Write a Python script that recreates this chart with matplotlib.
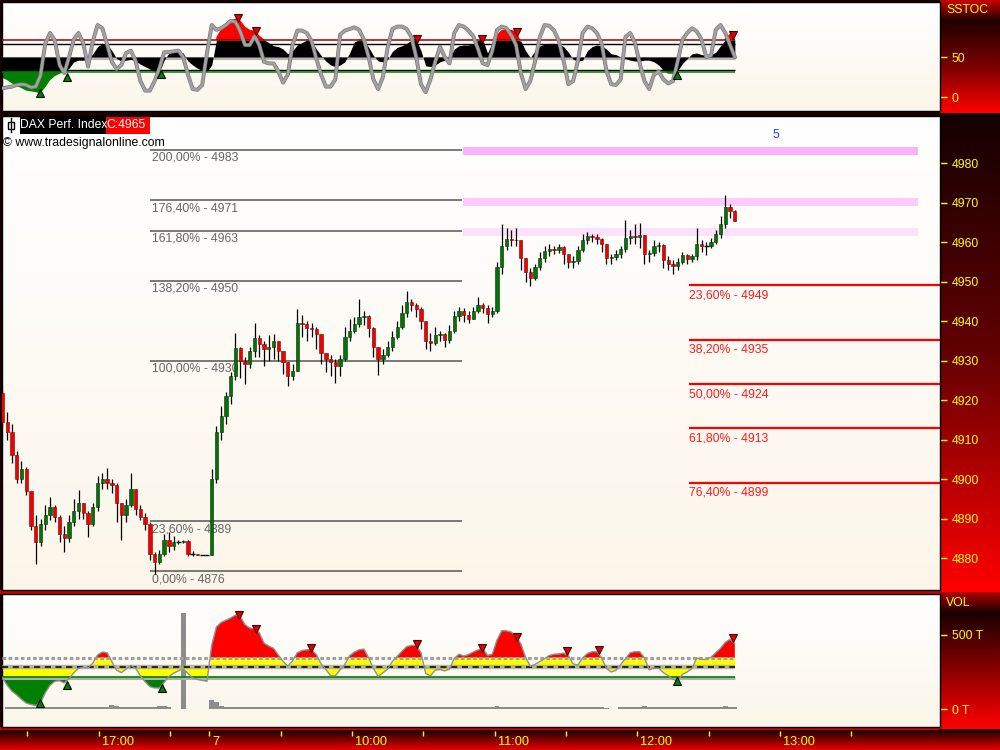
import numpy as np
import matplotlib
matplotlib.use('Agg')
import matplotlib.pyplot as plt
import matplotlib.patheffects as pe
from matplotlib.colors import LinearSegmentedColormap
from matplotlib.patches import Rectangle

plt.rcParams['font.family'] = ['Liberation Sans', 'DejaVu Sans']
plt.rcParams['font.size'] = 8.8

# minutes on the chart axis, 0 = 09:00 on the 7th (previous session on the left)
bar_t = np.arange(-87, 222, 2)

first_open = 4921.7
close = [4914.5, 4912, 4906, 4900, 4902.5, 4897, 4888, 4884, 4888.5, 4891,
         4893, 4890.5, 4886, 4885, 4889, 4892, 4894, 4891.5, 4888.5, 4893,
         4899, 4900, 4899, 4898.5, 4894, 4890.8, 4893.5, 4897.5, 4892.5, 4890.5,
         4888.5, 4881, 4879, 4881, 4884.5, 4883, 4884, 4884, 4884.2, 4881,
         4881, 4880.8, 4880.8, 4880.8, 4900, 4912, 4916, 4921, 4926,
         4933.2, 4930, 4929, 4932.4, 4935.8, 4934.1, 4932.8, 4933.5, 4934.9, 4932.4,
         4929.5, 4926, 4927.3, 4939.5, 4939.2, 4938.3, 4938, 4936.6, 4932, 4930.5,
         4929.5, 4928.6, 4930.5, 4936, 4937.5, 4939.2, 4941, 4941.3, 4938.3, 4933.5,
         4930.5, 4931.5, 4933.5, 4936, 4938.5, 4942, 4944.7, 4944, 4943, 4940,
         4935, 4934.5, 4936.5, 4936.6, 4935.3, 4937.5, 4941.3, 4942.6, 4941.5, 4940.4,
         4942.6, 4944, 4943.4, 4941.7, 4942.5, 4953.6, 4959, 4960.8, 4960.5, 4960.6,
         4956, 4952.5, 4951, 4953.6, 4956, 4957.8, 4958.3, 4958, 4958.7, 4957,
         4954.9, 4955.3, 4958, 4960.5, 4961.5, 4961.2, 4960.8, 4959.5, 4956, 4956.3,
         4957, 4958.3, 4961, 4961.5, 4961.2, 4961.7, 4957, 4957.3, 4959, 4959.2,
         4955.5, 4954.4, 4954, 4955, 4956.6, 4955.8, 4956.5, 4959.5, 4959, 4959,
         4960, 4962, 4964.5, 4968.9, 4967.8, 4965.2]
high = [4922.5, 4917, 4914, 4907, 4904.5, 4903, 4897, 4891, 4890, 4893.5,
        4895.5, 4893.5, 4891, 4888, 4891, 4895, 4897.2, 4894, 4892, 4894,
        4900.8, 4901.5, 4902.7, 4900, 4899, 4894, 4895, 4901.5, 4897.5, 4893.5,
        4891.5, 4889, 4881.5, 4882, 4886, 4886.5, 4885.5, 4884.5, 4884.5, 4884.5,
        4881.7, 4880.8, 4880.8, 4880.8, 4902.5, 4913.5, 4918.5, 4922, 4927,
        4937, 4933.5, 4931, 4933.5, 4939.5, 4936.5, 4935, 4936.5, 4936.7, 4935,
        4932.5, 4929.5, 4929, 4943, 4941.5, 4940, 4939.5, 4938.5, 4936, 4932,
        4931.5, 4930.5, 4931.5, 4938.5, 4940.5, 4941, 4945.5, 4942.5, 4941.5, 4938.5,
        4933.5, 4933, 4935, 4937.5, 4940, 4944, 4947.7, 4945.5, 4944.5, 4943.5,
        4940, 4937, 4938.5, 4937.5, 4937, 4939, 4942.6, 4943.5, 4943.3, 4942.6,
        4943.5, 4946, 4944.5, 4944, 4943.5, 4955, 4964.6, 4963.5, 4963, 4963.5,
        4960.5, 4956, 4953.5, 4954.5, 4957.5, 4959, 4959.5, 4959, 4959.5, 4959,
        4957, 4956.5, 4959, 4962, 4962.5, 4962, 4962, 4961, 4959.5, 4957,
        4958, 4959, 4965.5, 4963, 4964.5, 4964.8, 4961, 4958, 4960.5, 4960,
        4959.5, 4956.5, 4955.5, 4956, 4957.5, 4957, 4957, 4963.5, 4960.5, 4960,
        4961, 4963, 4966.5, 4971.8, 4969.5, 4968]
low = [4913, 4910, 4904, 4899, 4899, 4896, 4887, 4878.6, 4883, 4887,
       4889.5, 4889, 4884, 4881.5, 4884, 4888, 4890, 4890, 4885.4, 4888,
       4892, 4897.5, 4897.5, 4896.5, 4889, 4884.5, 4889, 4893, 4891, 4889.5,
       4887, 4879.5, 4876, 4878.5, 4880.5, 4881.5, 4882, 4883.5, 4883.8, 4880.5,
       4880.6, 4880.8, 4880.8, 4880.8, 4880.8, 4899, 4910, 4914, 4919,
       4925, 4925.5, 4924, 4928, 4931, 4931, 4928.5, 4930, 4930.5, 4930,
       4926.5, 4923.5, 4925, 4929, 4936, 4935, 4936, 4933, 4929, 4927,
       4926, 4924.3, 4926, 4930, 4935, 4937, 4938.5, 4939, 4936, 4931,
       4926.4, 4929, 4931, 4932.5, 4935.5, 4938, 4941, 4942.5, 4941, 4938,
       4933, 4932.5, 4934, 4935, 4933.5, 4934.5, 4937, 4940, 4939.8, 4939.5,
       4940.5, 4942, 4942, 4939.5, 4941, 4942, 4952, 4958, 4959, 4959,
       4953, 4950, 4948.8, 4950.5, 4953, 4955, 4956.5, 4957, 4957.2, 4954.5,
       4953.5, 4953.5, 4954.5, 4957.5, 4959.5, 4960, 4959.5, 4957.5, 4954.5, 4954.5,
       4955.5, 4956, 4957.5, 4959.5, 4959.5, 4958.5, 4954.5, 4955, 4956.5, 4957.5,
       4953.5, 4953, 4952, 4953, 4954.5, 4954.5, 4955, 4955.5, 4957.5, 4956.6,
       4958.5, 4959.5, 4961, 4963.5, 4966, 4965.3]

# SSTOC indicator (fast line and smoothed line)
sstoc_fast = [11, 12, 13, 15, 16, 15, 12, 13, 27, 67,
              80, 71, 40, 30, 50, 72, 80, 67, 38, 70,
              90, 86, 66, 44, 35, 40, 55, 58, 45, 20,
              8, 8, 20, 36, 56, 56, 57, 58, 50, 28,
              10, 9, 15, 55, 90, 84, 86, 90, 95, 94,
              82, 65, 65, 76, 65, 44, 42, 42, 32, 18,
              28, 65, 83, 83, 80, 70, 48, 28, 13, 13,
              22, 78, 83, 85,
              87, 84, 72, 50, 22, 10, 25, 62, 85, 88,
              88, 85, 75, 50, 16, 6, 22, 44, 63, 50,
              42, 80, 90, 88, 83, 76, 60, 42, 40, 58,
              84, 88, 86, 77, 65, 30, 10, 20, 45, 75,
              90, 89, 83, 70, 45, 16, 20, 45, 80, 88,
              86, 80, 67, 33, 16, 15, 22, 75, 80, 68,
              42, 20, 10, 28, 32, 22, 17, 20, 45, 72,
              80, 86, 82, 72, 50, 52, 84, 90, 80, 65, 50]
sstoc_slow = [24, 21, 17, 14, 11, 8, 7, 6, 5, 12,
              21, 26, 29, 31, 36, 44, 46, 46, 47, 54,
              63, 67, 66, 58, 48, 45, 46, 47, 45, 41,
              38, 35, 32, 30, 46, 55, 58, 57, 55, 45,
              40, 36, 33, 32, 40, 75, 85, 92, 96, 98,
              96, 88, 84, 83, 77, 72, 68, 64, 63, 60,
              54, 58, 65, 68, 72, 70, 60, 52, 45, 40,
              38, 40, 44, 55,
              69, 72, 72, 62, 52, 45, 44, 47, 57, 62,
              64, 67, 71, 73, 58, 39, 38, 40, 44, 46,
              48, 60, 64, 65, 65, 67, 71, 72, 55, 68,
              78, 84, 85, 84, 82, 70, 58, 49, 58, 64,
              66, 67, 67, 66, 63, 56, 47, 45, 46, 58,
              63, 65, 64, 60, 54, 53, 50, 48, 46, 45,
              45, 46, 46, 44, 40, 33, 29, 29, 33, 42,
              48, 54, 55, 53, 52, 53, 56, 64, 74, 79, 75]
sstoc_dn_t = [12.1, 19.6, 87.3, 114.7, 129.4, 220.2]
sstoc_dn_v = [98.5, 82.5, 72.5, 72.5, 81.5, 77.5]
sstoc_up_t = [-71.2, -59.8, -20.3, 196.6]
sstoc_up_v = [5, 25, 28.5, 27.5]

# VOL panel: smoothed volume and raw volume (thousands)
vol_osc = [210, 160, 120, 95, 65, 40, 30, 24, 40, 110,
           160, 187, 191, 176, 205, 245, 275, 282, 278, 310,
           365, 385, 380, 320, 262, 246, 270, 295, 275, 225,
           185, 151, 142, 142, 180, 220, 242, 258, 272, 240,
           210, 199, 193, 188, 430, 555, 585, 600, 615, 635,
           625, 570, 547, 540, 515, 445, 425, 410, 365, 322,
           290, 325, 380, 395, 400, 400, 368, 305, 268, 225,
           225, 265, 300, 360,
           384, 400, 405, 345, 275, 220, 245, 270, 322, 355,
           390, 421, 430, 430, 380, 240, 225, 263, 267, 258,
           270, 342, 370, 358, 368, 385, 399, 410, 362, 370,
           466, 529, 528, 520, 492, 440, 350, 288, 302, 320,
           340, 362, 370, 372, 378, 360, 305, 297, 345, 375,
           387, 387, 345, 275, 250, 262, 300, 340, 380, 387,
           387, 345, 265, 275, 275, 245, 225, 200, 191, 235,
           250, 275, 345, 335, 335, 350, 380, 410, 450, 472, 440]
vol = [0, 12, 12, 12, 12, 12, 12, 12, 12, 12,
       12, 12, 12, 12, 12, 12, 12, 12, 12, 12,
       12, 12, 12, 25, 20, 12, 12, 12, 12, 12,
       12, 12, 12, 20, 18, 12, 0, 0, 650, 0,
       0, 0, 0, 0, 60, 45, 22, 12, 12, 12,
       12, 12, 12, 12, 12, 12, 12, 12, 12, 12,
       12, 12, 12, 12, 12, 12, 12, 12, 12, 12,
       12, 12, 12, 12,
       12, 12, 12, 12, 12, 12, 12, 12, 12, 12,
       12, 12, 12, 12, 12, 12, 12, 12, 12, 12,
       12, 12, 12, 12, 12, 12, 12, 12, 12, 12,
       18, 12, 12, 12, 12, 12, 12, 12, 12, 12,
       12, 12, 12, 12, 12, 12, 12, 12, 12, 12,
       12, 12, 12, 8, 0, 0, 12, 12, 12, 12,
       12, 18, 12, 12, 12, 12, 12, 12, 12, 12,
       12, 12, 12, 12, 12, 12, 12, 12, 18, 12, 12]
vol_dn_t = [12.6, 19.6, 42.8, 87.3, 114.8, 129.3, 150.3, 163.9, 220.1]
vol_dn_v = [635, 539, 410, 437, 410, 489, 392, 399, 478]
vol_up_t = [-71.2, -60, -20, 196.8]
vol_up_v = [39, 162, 140, 191]

# fibonacci drawings
fib_levels = [4983.3, 4970.6, 4962.8, 4950.2, 4930.0, 4889.3, 4876.7]
fib_labels = ['200,00% - 4983', '176,40% - 4971', '161,80% - 4963', '138,20% - 4950',
              '100,00% - 4930', '23,60% - 4889', '0,00% - 4876']
ret_levels = [4949.1, 4935.2, 4924.0, 4912.9, 4899.1]
ret_labels = ['23,60% - 4949', '38,20% - 4935', '50,00% - 4924', '61,80% - 4913',
              '76,40% - 4899']
band_levels = [4983.0, 4970.1, 4962.5]
band_colors = ['#fab3fa', '#fccbfc', '#fde0fa']

tick_t = [-76.5, -46.5, -16.5, 0, 30, 60, 90, 120, 150, 180, 210, 240, 270]
tick_lab = ['', '17:00', '', '7', '', '10:00', '', '11:00', '', '12:00', '', '13:00', '']

W, H = 1000, 750
XLIM = (-87.2, 307.3)
YEL = '#ffff00'

fig = plt.figure(figsize=(10, 7.5), dpi=100, facecolor='#1a0000')

# background strips (pixel coords)
bg = fig.add_axes([0, 0, 1, 1], zorder=-5)
bg.set_xlim(0, W)
bg.set_ylim(H, 0)
bg.axis('off')
grad = np.linspace(0, 1, 200).reshape(-1, 1)


def vgrad(x0, x1, y0, y1, colors):
    cm = LinearSegmentedColormap.from_list('g', colors)
    bg.imshow(grad, cmap=cm, extent=[x0, x1, y1, y0], aspect='auto', interpolation='bilinear')


vgrad(940, 1000, 0, 19, ['#c80000', '#300000'])
vgrad(940, 1000, 19, 113, ['#1e0000', '#7a0000', '#ff0000'])
vgrad(940, 1000, 113, 592, ['#140000', '#620000', '#ff0000'])
vgrad(940, 1000, 592, 612, ['#b00000', '#200000'])
vgrad(940, 1000, 612, 729, ['#1a0000', '#8a0000', '#ff0000'])
vgrad(0, 1000, 729, 750, ['#100000', '#e80000'])
bg.add_patch(Rectangle((0, 590), 940, 4, facecolor='#cc0000', lw=0))
bg.add_patch(Rectangle((0, 727), 940, 3, facecolor='#cc0000', lw=0))
bg.set_xlim(0, W)
bg.set_ylim(H, 0)

panel_cm = LinearSegmentedColormap.from_list('p', ['#ffffff', '#fcf6ea'])


def add_panel(y0, y1):
    ax = fig.add_axes([2 / W, 1 - y1 / H, 938 / W, (y1 - y0) / H])
    ax.imshow(grad, cmap=panel_cm, extent=[0, 1, 0, 1], transform=ax.transAxes,
              aspect='auto', zorder=0)
    for s in ax.spines.values():
        s.set_color('black')
        s.set_linewidth(1)
    ax.yaxis.tick_right()
    ax.tick_params(axis='y', colors=YEL, length=5, width=1, pad=3.5, labelsize=8.8)
    ax.tick_params(axis='x', bottom=False, labelbottom=False)
    return ax


ax_top = add_panel(2, 111)
ax = add_panel(116, 590)
ax_vol = add_panel(594, 727)

t0, t1 = bar_t[0], bar_t[-1]

# ---- SSTOC panel
sf = np.array(sstoc_fast, dtype=float)
ss = np.array(sstoc_slow, dtype=float)
ax_top.hlines(48.7, t0, t1, color='#b4b4b4', lw=2.2, zorder=1)
ax_top.fill_between(bar_t, 50, np.clip(ss, 31.25, 71.25), color='black', lw=0, zorder=2)
ax_top.fill_between(bar_t, 71.25, ss, where=ss > 71.25, interpolate=True,
                    color='#ff0000', lw=0, zorder=2)
ax_top.fill_between(bar_t, 31.25, ss, where=ss < 31.25, interpolate=True,
                    color='#008000', lw=0, zorder=2)
ax_top.hlines(71.25, t0, t1, color='#a00000', lw=1.1, zorder=3)
ax_top.hlines(66.25, t0, t1, color='black', lw=1, zorder=3)
ax_top.hlines(33.75, t0, t1, color='black', lw=1, zorder=3)
ax_top.hlines(31.25, t0, t1, color='#008000', lw=1.1, zorder=3)
ax_top.plot(bar_t, sf, color='#a2a2a2', lw=1.8, zorder=4,
            path_effects=[pe.Stroke(linewidth=2.8, foreground='#767676'), pe.Normal()])
ax_top.plot(sstoc_dn_t, sstoc_dn_v, 'v', color='#e00000', mec='#400000', ms=6, mew=0.8, zorder=5)
ax_top.plot(sstoc_up_t, sstoc_up_v, '^', color='#008000', mec='black', ms=6, mew=0.8, zorder=5)
ax_top.set_yticks([0, 50])
ax_top.set_xlim(*XLIM)
ax_top.set_ylim(-17.5, 118.75)

# ---- price panel
for lev, col in zip(band_levels, band_colors):
    ax.fill_between([106.7, 298.0], lev - 1.0, lev + 1.0, color=col, lw=0, zorder=1)

ax.hlines(fib_levels, -24.9, 106.3, color='#555555', lw=1.1, zorder=1)
for lev, lab in zip(fib_levels, fib_labels):
    ax.annotate(lab, xy=(-24.9, lev), xytext=(2, -2), textcoords='offset pixels',
                ha='left', va='top', color='#666666', zorder=1)

ax.hlines(ret_levels, 201.7, XLIM[1], color='#ff0000', lw=1.6, zorder=1)
for lev, lab in zip(ret_levels, ret_labels):
    ax.annotate(lab, xy=(201.7, lev), xytext=(0, -4), textcoords='offset pixels',
                ha='left', va='top', color='#ff1a1a', zorder=1)

ax.text(238.3, 4987.2, '5', color='#1a3cff', ha='center', va='center')

o = np.array([first_open] + close[:-1])
c = np.array(close)
h = np.maximum(np.array(high), np.maximum(o, c))
l = np.minimum(np.array(low), np.minimum(o, c))
up = c > o
dn = c < o
flat = c == o
ax.vlines(bar_t, l, h, color='black', lw=0.9, zorder=3)
ax.bar(bar_t[up], (c - o)[up], bottom=o[up], width=1.4, color='#087008',
       edgecolor='#003300', lw=0.4, zorder=4)
ax.bar(bar_t[dn], (o - c)[dn], bottom=c[dn], width=1.4, color='#f00000',
       edgecolor='#7a0000', lw=0.4, zorder=4)
ax.hlines(c[flat], bar_t[flat] - 1, bar_t[flat] + 1, color='black', lw=1, zorder=4)

ax.set_yticks(np.arange(4880, 4990, 10))
ax.set_xlim(*XLIM)
ax.set_ylim(4871.9, 4991.9)

# ---- VOL panel
vo = np.array(vol_osc, dtype=float)
ax_vol.bar(bar_t, vol, width=2.0, color='#8c8c8c', lw=0, zorder=1)
ax_vol.fill_between(bar_t, 347, vo, where=vo > 347, interpolate=True,
                    color='#ff0000', lw=0, zorder=2)
ax_vol.fill_between(bar_t, 285, np.clip(vo, 218, 347), color='#ffff00', lw=0, zorder=2)
ax_vol.fill_between(bar_t, 218, vo, where=vo < 218, interpolate=True,
                    color='#008000', lw=0, zorder=2)
ax_vol.hlines(347, t0, t1, color='#a0a0a0', lw=2.2, linestyles=(0, (1.2, 0.8)), zorder=3)
ax_vol.hlines(284, t0, t1, color='#9a9a9a', lw=3.2, alpha=0.7, zorder=3)
ax_vol.hlines(285, t0, t1, color='black', lw=1.1, linestyles=(0, (4, 3)), zorder=3)
ax_vol.hlines(207, t0, t1, color='#b0b0b0', lw=2.2, zorder=3)
ax_vol.hlines(218, t0, t1, color='#008000', lw=1.2, zorder=3)
ax_vol.plot(bar_t, vo, color='#909090', lw=1, zorder=4)
ax_vol.plot(vol_dn_t, vol_dn_v, 'v', color='#e00000', mec='#400000', ms=6, mew=0.8, zorder=5)
ax_vol.plot(vol_up_t, vol_up_v, '^', color='#008000', mec='black', ms=6, mew=0.8, zorder=5)
ax_vol.set_yticks([0, 500])
ax_vol.set_yticklabels(['0 T', '500 T'])
ax_vol.set_xlim(*XLIM)
ax_vol.set_ylim(-121.6, 777)

# ---- time axis
ax_t = fig.add_axes([2 / W, 0, 938 / W, 20 / H])
ax_t.axis('off')
ax_t.set_xlim(*XLIM)
ax_t.set_ylim(0, 1)
ax_t.vlines(tick_t, 0.72, 0.93, color=YEL, lw=1)
for tt, lab in zip(tick_t, tick_lab):
    if lab:
        ax_t.annotate(lab, xy=(tt, 0.38), xytext=(3, 0), textcoords='offset pixels',
                      ha='left', va='center', color=YEL, fontsize=9.2)

# ---- overlay texts (pixel coords)
ov = fig.add_axes([0, 0, 1, 1], zorder=10)
ov.set_xlim(0, W)
ov.set_ylim(H, 0)
ov.axis('off')
ov.add_patch(Rectangle((20, 117), 86, 16.5, facecolor='black', lw=0))
ov.add_patch(Rectangle((106, 117), 43.5, 16.5, facecolor='#ff0000', lw=0))
ov.text(20.5, 125.5, 'DAX Perf. Index', color='white', va='center', ha='left', fontsize=8.7)
ov.text(106.5, 125.5, 'C:4965', color='white', va='center', ha='left', fontsize=8.7)
ov.plot([11, 11], [118, 132], color='black', lw=1)
ov.add_patch(Rectangle((8, 121.5), 6, 7, facecolor='white', edgecolor='black', lw=1))
ov.text(3, 143, '\u00a9 www.tradesignalonline.com', color='black', va='center', ha='left')
ov.text(946, 10, 'SSTOC', color=YEL, va='center', ha='left')
ov.text(946, 603, 'VOL', color=YEL, va='center', ha='left')

fig.savefig('out.png', dpi=100, facecolor=fig.get_facecolor())
